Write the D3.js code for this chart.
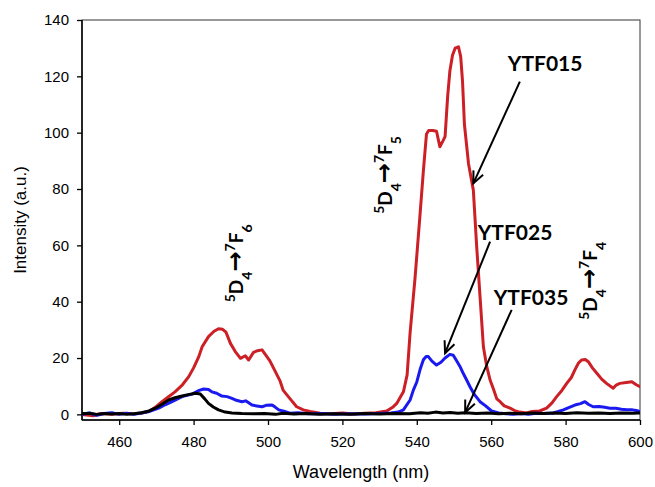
<!DOCTYPE html>
<html>
<head>
<meta charset="utf-8">
<script src="https://cdn.jsdelivr.net/npm/d3@7"></script>
<style>
  html, body { margin: 0; padding: 0; background: #fff; }
  svg { display: block; }
  .tick text { font-family: Arial, "Liberation Sans", sans-serif; font-size: 15px; fill: #000; }
</style>
</head>
<body>
<svg id="chart" width="655" height="487"></svg>
<script>
// Emission spectra (wavelength nm, intensity a.u.)
const ytf015 = [
  [450,0],[453,-0.5],[455,0.3],[458,0],[461,0.4],[464,0.2],[466,0.5],[468,1],[470,2.8],[471.5,4.5],
  [473,6],[475,8],[477,10.5],[478.7,13.4],[480,16.5],[481.4,20.5],[482.3,24],[484,27.6],[485.5,29.5],
  [486.7,30.4],[487.8,30.2],[488.7,29.2],[489.9,25.2],[491.2,22.3],[492.6,19.9],[493.9,20.8],[494.8,19.3],
  [496.1,22],[497.2,22.6],[498.4,22.9],[499.7,20.5],[500.5,19],[501.5,16.4],[503.2,12],[504.1,8.5],
  [505.9,5.6],[507.7,2.7],[509.5,1.6],[511.3,1],[514,0.4],[517,0.2],[520,0.5],[523,0.1],[526,0.4],
  [529,0.6],[531.9,1.2],[533.5,2.5],[534.6,3.9],[536.4,8],[537.4,14],[538.2,29],[539.5,48],[540.9,71.4],
  [541.8,87],[542.6,99.5],[543.2,100.8],[544.3,100.8],[545.3,100.5],[546.2,95],[547,97],[547.6,98.6],
  [548.3,113],[548.9,122],[549.6,127.5],[550.3,130],[551.2,130.5],[551.8,127],[552.3,118],[552.8,103],
  [553.9,89],[555.2,79.6],[556.1,59.5],[557,41.8],[557.9,24],[558.8,17],[559.7,12.2],[560.6,9],
  [561.5,5.5],[562.4,4.5],[563.5,3],[565.1,2.2],[566.5,1.2],[567.7,0.8],[569.5,0.5],[571,1],[573,1.2],
  [574.9,2.2],[576.3,4],[577.6,6.3],[579,8.5],[580.3,11],[581.5,13],[582.5,15.8],[583.5,18.3],
  [584.3,19.3],[585.3,19.5],[586.1,18.7],[587.2,16.5],[588.4,14.6],[589.7,12.5],[591,11],[592.8,9.3],
  [593.7,10.5],[594.6,11],[596.3,11.3],[597.8,11.6],[599,10.5],[600,9.8]
];
const ytf025 = [
  [450,0],[452,0.5],[454,-0.3],[456,0.3],[458,0.6],[460,0],[462,0.4],[464,0],[466,0.5],[468,1],
  [470.6,2.2],[472.5,3.5],[474.2,4.5],[476.9,6.3],[479.6,7.2],[481.5,8.5],[482.7,9],[484,8.8],[484.9,8],
  [486.2,7.5],[487.6,6.5],[489,6.3],[490.3,5.7],[491.5,5],[493,4.5],[494,4.8],[495.7,3.3],[497,3],
  [498.4,2.7],[499.5,3.2],[501.1,3.3],[502,2.5],[502.9,1.6],[504.5,1],[505.9,0.4],[508,0.6],[511,0.2],
  [514,0.3],[518,0],[522,0.2],[526,0.1],[530,0.3],[533,0.5],[535,0.8],[536.4,1.6],[538.2,5.1],
  [539.1,8.7],[540,11.5],[540.9,16],[541.8,19.5],[542.5,20.5],[543.1,20.5],[544,19],[545.3,17.5],
  [546.5,18.5],[547.6,20],[548.9,21.3],[549.8,21],[550.7,19],[551.6,17],[552.5,14.5],[553.4,12.2],
  [554.3,9.8],[555.5,7],[557,4.5],[558.5,3],[560.1,1.2],[562,0.5],[564,0.2],[566,0],[568,0.3],[570,0],
  [572,0.4],[574,0.3],[576.7,0.5],[578,1],[579.4,1.6],[581,2.5],[582.5,3.3],[584,3.8],[585.2,4.5],
  [586.2,3.5],[587.4,2.7],[589,2.8],[590.5,2.5],[591.9,2.2],[593.5,2.2],[595,1.8],[596.4,1.6],[598,1.6],
  [599,1.4],[600,1]
];
const ytf035 = [
  [450,0.2],[452,0.4],[454,0],[456,0.3],[458,0.1],[460,0.3],[462,0],[464,0.2],[466,0.6],[468,1.2],
  [469.7,2.2],[471.5,3.6],[473.3,5.1],[475,5.9],[476.9,6.5],[478.5,7],[480.5,7.5],[481.8,7.2],[483,5.5],
  [484,3.9],[485.3,2.6],[486.7,1.6],[488.5,0.8],[490.3,0.5],[493,0.3],[496,0.2],[499,0.3],[502,0],
  [504,0.4],[507,0.1],[510,0.3],[514,0],[518,0.2],[522,0],[526,0.3],[530,0.1],[534,0.3],[538,0.2],
  [541,0.6],[543,0.4],[545,0.8],[547,0.5],[549,0.7],[551,0.4],[553,0.6],[556,0.3],[559,0.5],[562,0.2],
  [565,0.4],[568,0.2],[571,0.5],[574,0.3],[577,0.5],[580,0.3],[583,0.6],[586,0.4],[589,0.5],[592,0.3],
  [595,0.5],[598,0.4],[600,0.5]
];

const xTicks = [460, 480, 500, 520, 540, 560, 580, 600];
const yTicks = [0, 20, 40, 60, 80, 100, 120, 140];

// Sample name labels with arrows: label position, arrow start, arrow tip
const sampleNames = ["YTF015", "YTF025", "YTF035"];
const sampleLabelPos = [[574.5, 121.9], [566.4, 61.9], [570.7, 38.8]];
const arrowFrom = [[567.7, 118.1], [559.7, 61.3], [565.5, 37.1]];
const arrowTo = [[555.2, 82], [547.6, 21.7], [553, 0.7]];

// Transition labels 5D4 -> 7FJ, drawn vertically
const transitionJ = ["6", "5", "4"];
const transitionPos = [[491.4, 53.6], [531.5, 85], [586.6, 47.4]];

const svg = d3.select("#chart");
const W = 655, H = 487;
const m = { left: 82, top: 20, right: 15, bottom: 67 };
const pw = W - m.left - m.right, ph = H - m.top - m.bottom;

const x = d3.scaleLinear().domain([450, 600]).range([m.left, m.left + pw]);
const y = d3.scaleLinear().domain([-2, 140]).range([m.top + ph, m.top]);

svg.append("defs").append("clipPath").attr("id", "plotclip")
  .append("rect").attr("x", m.left).attr("y", m.top).attr("width", pw).attr("height", ph);

// Frame (top/right)
svg.append("rect")
  .attr("x", m.left).attr("y", m.top).attr("width", pw).attr("height", ph)
  .attr("fill", "none").attr("stroke", "#333").attr("stroke-width", 1);

// Axes
const xAxis = svg.append("g")
  .attr("transform", `translate(0,${m.top + ph})`)
  .call(d3.axisBottom(x).tickValues(xTicks).tickSizeOuter(0).tickSize(5).tickPadding(8));
const yAxis = svg.append("g")
  .attr("transform", `translate(${m.left},0)`)
  .call(d3.axisLeft(y).tickValues(yTicks).tickSizeOuter(0).tickSize(5).tickPadding(8));
[xAxis, yAxis].forEach(g => {
  g.select(".domain").attr("stroke", "#000").attr("stroke-width", 1.5);
  g.selectAll(".tick line").attr("stroke", "#000").attr("stroke-width", 1.3);
});
xAxis.selectAll(".tick text").attr("dy", "0.9em");
xAxis.select(".domain").attr("d", `M${m.left},0H${m.left + pw}`);
yAxis.select(".domain").attr("d", `M0,${m.top}V${m.top + ph}`);

// Axis titles
svg.append("text")
  .attr("x", m.left + pw / 2).attr("y", 478)
  .attr("text-anchor", "middle")
  .style("font-family", "Arial, 'Liberation Sans', sans-serif").style("font-size", "18px")
  .text("Wavelength (nm)");
svg.append("text")
  .attr("transform", `translate(26,${m.top + ph / 2}) rotate(-90)`)
  .attr("text-anchor", "middle")
  .style("font-family", "Arial, 'Liberation Sans', sans-serif").style("font-size", "17px")
  .text("Intensity (a.u.)");

// Spectra
const line = d3.line().x(d => x(d[0])).y(d => y(d[1]));
const series = [
  { data: ytf015, color: "#cc1f26" },
  { data: ytf025, color: "#1a1af0" },
  { data: ytf035, color: "#000000" }
];
const plot = svg.append("g").attr("clip-path", "url(#plotclip)");
plot.selectAll("path.spec").data(series).join("path")
  .attr("class", "spec")
  .attr("d", s => line(s.data))
  .attr("fill", "none")
  .attr("stroke", s => s.color)
  .attr("stroke-width", 3)
  .attr("stroke-linejoin", "round")
  .attr("stroke-linecap", "round");

// Arrows to sample curves
const labelFont = "Lato, 'Open Sans', sans-serif";
sampleNames.forEach((name, i) => {
  const x1 = x(arrowFrom[i][0]), y1 = y(arrowFrom[i][1]);
  const x2 = x(arrowTo[i][0]), y2 = y(arrowTo[i][1]);
  const ang = Math.atan2(y2 - y1, x2 - x1);
  const hl = 13, ha = 0.42;
  svg.append("line")
    .attr("x1", x1).attr("y1", y1).attr("x2", x2).attr("y2", y2)
    .attr("stroke", "#000").attr("stroke-width", 2);
  svg.append("path")
    .attr("d", `M${x2 - hl * Math.cos(ang - ha)},${y2 - hl * Math.sin(ang - ha)}L${x2},${y2}L${x2 - hl * Math.cos(ang + ha)},${y2 - hl * Math.sin(ang + ha)}`)
    .attr("fill", "none").attr("stroke", "#000").attr("stroke-width", 2)
    .attr("stroke-linejoin", "miter");
  svg.append("text")
    .attr("x", x(sampleLabelPos[i][0])).attr("y", y(sampleLabelPos[i][1]))
    .attr("text-anchor", "middle")
    .style("font-family", labelFont).style("font-weight", 700).style("font-size", "21px")
    .text(name);
});

// Transition labels
transitionJ.forEach((j, i) => {
  const t = svg.append("text")
    .attr("transform", `translate(${x(transitionPos[i][0])},${y(transitionPos[i][1])}) rotate(-90)`)
    .attr("text-anchor", "middle")
    .attr("dy", "0.35em")
    .style("font-family", labelFont).style("font-weight", 700).style("font-size", "19px");
  t.append("tspan").attr("baseline-shift", "super").style("font-size", "14px").text("5");
  t.append("tspan").text("D");
  t.append("tspan").attr("baseline-shift", "sub").style("font-size", "14px").text("4");
  t.append("tspan").style("font-family", "'DejaVu Sans', sans-serif").style("font-size", "24px").text("\u2192");
  t.append("tspan").attr("baseline-shift", "super").style("font-size", "14px").text("7");
  t.append("tspan").text("F");
  t.append("tspan").attr("baseline-shift", "sub").style("font-size", "14px").text(j);
});
</script>
</body>
</html>
